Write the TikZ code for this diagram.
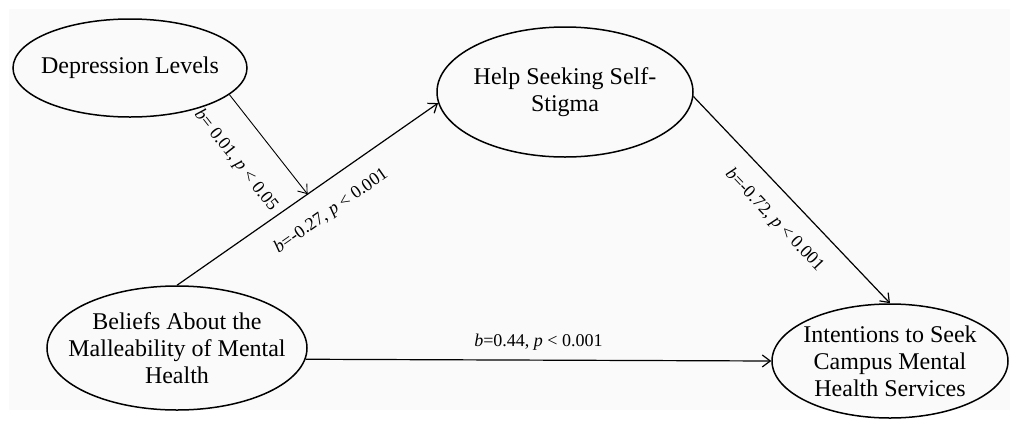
\documentclass[tikz,border=0pt]{standalone}
\usepackage{fontspec}
\setmainfont{Liberation Serif}
\usepackage{tikz}
\usetikzlibrary{arrows.meta,shapes.geometric}
\definecolor{PageGray}{HTML}{FAFAFA}

\begin{document}
\begin{tikzpicture}[
    x=1pt,y=-1pt,
    var/.style={ellipse,draw,line width=1.5pt,inner xsep=-25pt,inner ysep=0pt,align=center,font=\fontsize{24}{27}\selectfont},
    effect/.style={->,line width=1.2pt},
    moderate/.style={->,line width=0.9pt},
    coef/.style={sloped,inner sep=0pt,font=\fontsize{18}{20}\selectfont},
    >={Straight Barb[length=8pt,width=12pt]}
  ]
  \useasboundingbox (0,0) rectangle (1010,421);
  \fill[PageGray] (9,9) rectangle (1010,410);

  % Variables
  \node[var,minimum width=234pt,minimum height=98pt] (dep) at (130,68) {Depression Levels};
  \node[var,minimum width=256pt,minimum height=130pt] (help) at (565,92) {Help Seeking Self-\\Stigma};
  \node[var,minimum width=260pt,minimum height=124pt] (bel) at (177,348) {Beliefs About the\\Malleability of Mental\\Health};
  \node[var,minimum width=236pt,minimum height=114pt] (int) at (890,361) {Intentions to Seek\\Campus Mental\\Health Services};

  % Paths
  \draw[effect] (bel.north) -- coordinate[pos=0.5] (mid) (help.185)
    node[coef,pos=0.53,below=19pt] {\textit{b}=-0.27, \textit{p} < 0.001};
  \draw[effect] (help.-2) -- (int.north)
    node[coef,pos=0.51,below=18pt] {\textit{b}=-0.72, \textit{p} < 0.001};
  \draw[effect] (bel.-5) -- (int.west)
    node[coef,pos=0.5,above=9pt] {\textit{b}=0.44, \textit{p} < 0.001};

  % Moderation
  \draw[moderate] (dep.-15) -- (mid)
    node[coef,pos=0.44,below=27pt] {\textit{b}= 0.01, \textit{p} < 0.05};
\end{tikzpicture}
\end{document}
